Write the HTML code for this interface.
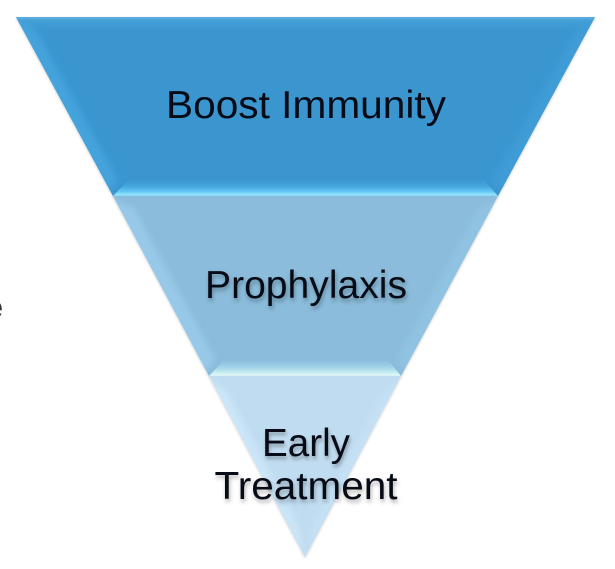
<!DOCTYPE html>
<html>
<head>
<meta charset="utf-8">
<style>
html,body{margin:0;padding:0;background:#fff;width:615px;height:569px;overflow:hidden}
svg{display:block}
text{font-family:"Liberation Sans",sans-serif;fill:#060b16;text-anchor:middle;font-size:39px}
.s{text-shadow:1px 3px 4px rgba(0,0,0,.3)}
</style>
</head>
<body>
<svg width="615" height="569" viewBox="0 0 615 569" xmlns="http://www.w3.org/2000/svg">
<defs>
<linearGradient id="b1" x1="0" y1="0" x2="0" y2="1"><stop offset="0" stop-color="#3b96d0"/><stop offset=".4" stop-color="#45a6de"/><stop offset=".72" stop-color="#62c6f4"/><stop offset=".9" stop-color="#90e2fc"/><stop offset="1" stop-color="#8cd6f4"/></linearGradient>
<linearGradient id="t1" x1="0" y1="0" x2="0" y2="1"><stop offset="0" stop-color="#62b4e2"/><stop offset=".25" stop-color="#459fd7"/><stop offset="1" stop-color="#3b96d0"/></linearGradient>
<linearGradient id="b2" x1="0" y1="0" x2="0" y2="1"><stop offset="0" stop-color="#8bbcdb"/><stop offset=".45" stop-color="#a2d3e8"/><stop offset=".8" stop-color="#c6eef3"/><stop offset=".94" stop-color="#e2f8f8"/><stop offset="1" stop-color="#d2e8f3"/></linearGradient>
<filter id="sh" x="-5%" y="-5%" width="110%" height="110%"><feDropShadow dx="0" dy="1" stdDeviation="1.2" flood-color="#000" flood-opacity=".22"/></filter>
<filter id="bl" x="-30%" y="-30%" width="160%" height="160%"><feGaussianBlur stdDeviation="3.5"/></filter>
<clipPath id="c1"><polygon points="16,17 595,17 498,196 113,196"/></clipPath>
<clipPath id="c2"><polygon points="113,196 498,196 401,376 209,376"/></clipPath>
<clipPath id="c3"><polygon points="209,376 401,376 305,557"/></clipPath>
</defs>

<g filter="url(#sh)">
<polygon points="16,17 595,17 498,196 113,196" fill="#3b96d0"/>
<polygon points="113,196 498,196 401,376 209,376" fill="#8bbcdb"/>
<polygon points="209,376 401,376 305,557" fill="#c0dcf0"/>
</g>

<!-- segment 1 -->
<g clip-path="url(#c1)">
<rect x="16" y="17" width="580" height="14" fill="url(#t1)"/>
<polygon points="10,17 36,30 118,180 105,196" fill="#48a7e0" opacity=".75" filter="url(#bl)"/>
<polygon points="600,17 576,30 492,180 505,196" fill="#429fd8" opacity=".7" filter="url(#bl)"/>
<polygon points="113,196 128,180 484,180 498,196" fill="url(#b1)"/>
</g>

<!-- segment 2 -->
<g clip-path="url(#c2)">
<polygon points="106,196 134,208 216,360 202,376" fill="#9bcdec" opacity=".75" filter="url(#bl)"/>
<polygon points="505,196 478,208 396,360 408,376" fill="#93c5e4" opacity=".7" filter="url(#bl)"/>
<polygon points="209,376 224,360 388,360 401,376" fill="url(#b2)"/>
</g>

<!-- segment 3 -->
<g clip-path="url(#c3)">
<polygon points="202,376 226,390 298,525 305,560" fill="#cfe9fa" opacity=".75" filter="url(#bl)"/>
<polygon points="408,376 384,390 312,525 305,560" fill="#c8e2f5" opacity=".7" filter="url(#bl)"/>
</g>

<text x="306" y="118" textLength="280" lengthAdjust="spacingAndGlyphs">Boost Immunity</text>
<text class="s" x="306" y="298" textLength="202" lengthAdjust="spacingAndGlyphs">Prophylaxis</text>
<text class="s" x="306" y="456" textLength="88" lengthAdjust="spacingAndGlyphs">Early</text>
<text class="s" x="306" y="499" textLength="183" lengthAdjust="spacingAndGlyphs">Treatment</text>
<text x="-6" y="318" style="fill:#333;font-size:32px;font-weight:bold">e</text>
</svg>
</body>
</html>
